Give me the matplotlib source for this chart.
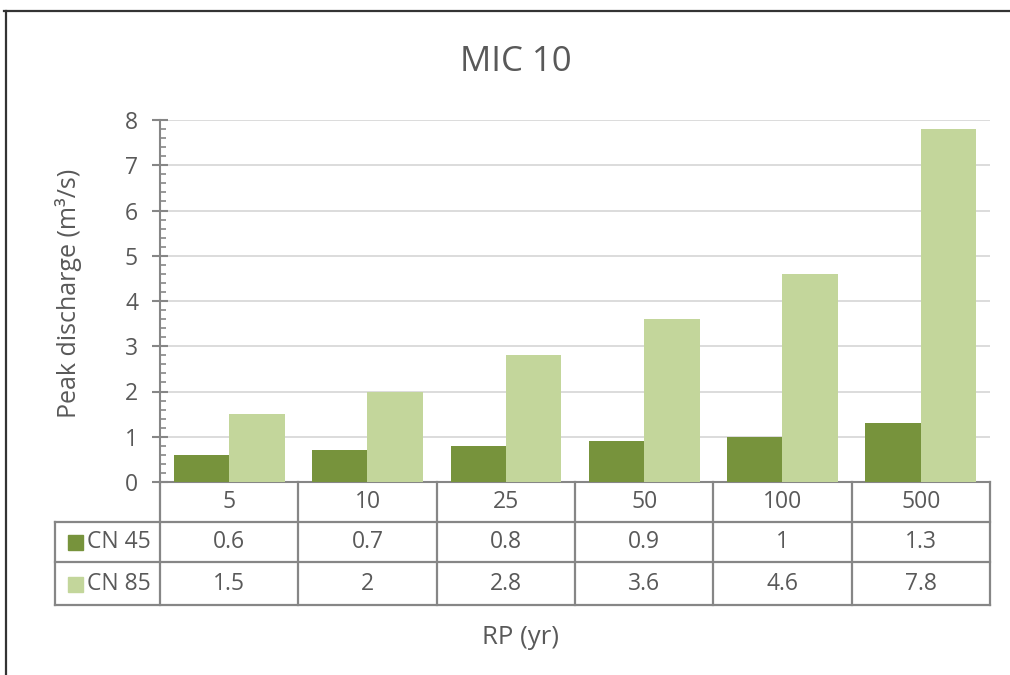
import matplotlib
matplotlib.use("Agg")
from matplotlib import pyplot as plt
from matplotlib.patches import Rectangle
from matplotlib.lines import Line2D
import matplotlib.transforms as mtrans
import numpy as np

# data
rp = ["5", "10", "25", "50", "100", "500"]
cn45 = [0.6, 0.7, 0.8, 0.9, 1, 1.3]
cn85 = [1.5, 2, 2.8, 3.6, 4.6, 7.8]
series_names = ["CN 45", "CN 85"]
colors = ["#77933C", "#C3D69B"]

plt.rcParams['font.family'] = ['Open Sans', 'DejaVu Sans']
txt = "#595959"
line_c = "#868686"
fs = 16.5

W, H = 1010, 675
fig = plt.figure(figsize=(10.1, 6.75), dpi=100)

# axes placed in pixel terms: left 160, right 990, top 120, bottom 482
ax = fig.add_axes([160/W, (H-482)/H, 830/W, 362/H])
x = np.arange(len(rp))
bw = 0.4
ax.bar(x - bw/2, cn45, bw, color=colors[0], zorder=3)
ax.bar(x + bw/2, cn85, bw, color=colors[1], zorder=3)
ax.set_xlim(-0.5, len(rp) - 0.5)
ax.set_ylim(0, 8)
ax.set_yticks(np.arange(0, 9, 1))
ax.set_yticks(np.arange(0, 8.01, 0.2), minor=True)
ax.yaxis.grid(True, color="#D9D9D9", lw=1.3, zorder=0)
ax.set_xticks([])
for s in ["top", "right"]:
    ax.spines[s].set_visible(False)
for s in ["left", "bottom"]:
    ax.spines[s].set_color(line_c)
    ax.spines[s].set_linewidth(1.5)
ax.tick_params(axis="y", which="major", direction="inout", length=11.5, width=1.5,
               color=line_c, labelsize=fs, labelcolor=txt, pad=10)
ax.tick_params(axis="y", which="minor", direction="in", length=4.5, width=1.2, color=line_c)

# data table under the axis
tr = mtrans.blended_transform_factory(ax.transData, ax.transAxes)
ph = 362.0
y_rows = [-(522-482)/ph, -(562-482)/ph, -(605-482)/ph]
y_text = [-(502-482)/ph, -(542-482)/ph, -(584-482)/ph]
x_left = (55-160)/830.0
lkw = dict(color=line_c, lw=1.6, clip_on=False, solid_capstyle="projecting")

for i in range(len(rp) + 1):
    ax.plot([i - 0.5, i - 0.5], [0, y_rows[2]], transform=tr, **lkw)
for yr in y_rows:
    ax.plot([x_left, 1], [yr, yr], transform=ax.transAxes, **lkw)
ax.plot([x_left, x_left], [y_rows[0], y_rows[2]], transform=ax.transAxes, **lkw)

for i, lab in enumerate(rp):
    ax.text(i, y_text[0], lab, transform=tr, ha="center", va="center",
            fontsize=fs, color=txt)
    ax.text(i, y_text[1], f"{cn45[i]:g}", transform=tr, ha="center", va="center",
            fontsize=fs, color=txt)
    ax.text(i, y_text[2], f"{cn85[i]:g}", transform=tr, ha="center", va="center",
            fontsize=fs, color=txt)

for k, name in enumerate(series_names):
    yc = y_text[k + 1]
    ax.add_patch(Rectangle(((68-160)/830.0, yc - 7.5/ph), 15/830.0, 15/ph,
                           transform=ax.transAxes, color=colors[k], clip_on=False))
    ax.text((87-160)/830.0, yc, name, transform=ax.transAxes, ha="left", va="center",
            fontsize=fs, color=txt)

# titles
fig.text(516/W, 1 - 62/H, "MIC 10", ha="center", va="center", fontsize=25, color=txt)
fig.text(68/W, 1 - 293/H, "Peak discharge (m³/s)", ha="center", va="center",
         rotation=90, fontsize=18, color=txt)
fig.text(520/W, 1 - 638/H, "RP (yr)", ha="center", va="center", fontsize=18.5, color=txt)

# outer frame (top and left edge only, cropped screenshot)
fig.add_artist(Line2D([4/W, 1], [1 - 11/H, 1 - 11/H], color="#333333", lw=1.6))
fig.add_artist(Line2D([6/W, 6/W], [0, 1 - 11/H], color="#333333", lw=1.6))

fig.savefig("out.png", dpi=100, facecolor="white")
